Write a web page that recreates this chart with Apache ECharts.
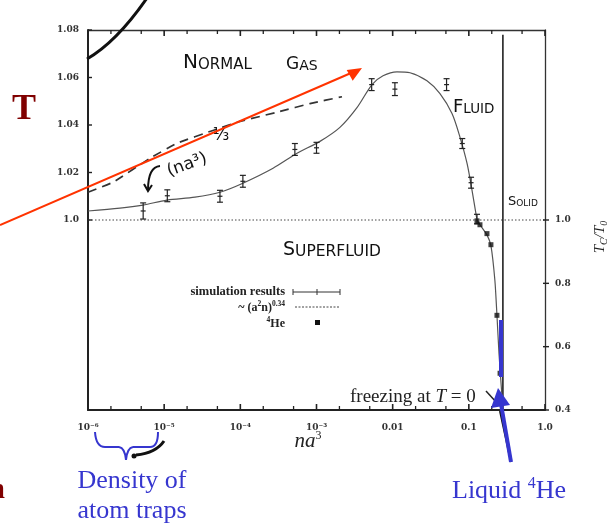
<!DOCTYPE html>
<html><head><meta charset="utf-8">
<script src="https://cdn.jsdelivr.net/npm/echarts@6/dist/echarts.min.js"></script>
<style>html,body{margin:0;padding:0;background:#fff}#c{width:616px;height:529px}</style>
</head><body><div id="c"></div>
<script>
// ---- axis ticks / labels ----
const xTickValues = [1e-6, 1e-5, 1e-4, 1e-3, 1e-2, 1e-1, 1];
const xTickLabels = ['10⁻⁶', '10⁻⁵', '10⁻⁴', '10⁻³', '0.01', '0.1', '1.0'];
const xMinorTickValues = [2e-6, 5e-6, 2e-5, 5e-5, 2e-4, 5e-4, 2e-3, 5e-3, 2e-2, 5e-2, 0.2, 0.5];
const leftTickValues = [1.0, 1.02, 1.04, 1.06, 1.08];
const leftTickLabels = ['1.0', '1.02', '1.04', '1.06', '1.08'];
const rightTickValues = [0.4, 0.6, 0.8, 1.0];
const rightTickLabels = ['0.4', '0.6', '0.8', '1.0'];

// ---- simulation results (left axis, Tc shift) with error bars ----
const simX = [5.3e-6, 1.1e-5, 5.4e-5, 1.08e-4, 5.2e-4, 1.0e-3, 5.3e-3, 1.07e-2, 5.1e-2, 8.2e-2, 0.107, 0.128];
const simY = [1.0038, 1.0102, 1.0100, 1.0163, 1.0297, 1.0304, 1.0570, 1.0551, 1.0570, 1.0322, 1.0157, 1.0004];
const simErr = [0.0034, 0.0025, 0.0025, 0.0025, 0.0025, 0.0023, 0.0025, 0.0027, 0.0025, 0.0021, 0.0023, 0.0020];

// ---- smooth curve through results, gas side (left axis) ----
const fitX = [1e-6, 2.63e-6, 5.27e-6, 1.09e-5, 2.54e-5, 5.41e-5, 1.08e-4, 2.69e-4, 5.55e-4, 1.11e-3, 2.03e-3, 3.40e-3, 5.36e-3, 7.47e-3, 0.0114, 0.0169, 0.0282, 0.0418, 0.0601, 0.0766, 0.0946, 0.110, 0.128];
const fitY = [1.0038, 1.0050, 1.0063, 1.0084, 1.0096, 1.0117, 1.0155, 1.0218, 1.0281, 1.0331, 1.0390, 1.0473, 1.0570, 1.0607, 1.0624, 1.0620, 1.0586, 1.0532, 1.0448, 1.0348, 1.0239, 1.0126, 1.0000];
// ---- continuation into the liquid (right axis) ----
const liqX = [0.128, 0.144, 0.173, 0.195, 0.220, 0.234, 0.249, 0.272, 0.281];
const liqY = [1.0, 0.981, 0.953, 0.919, 0.808, 0.699, 0.578, 0.445, 0.411];

// ---- ~ (a^2 n)^0.34 dashed ----
const powX = [1e-6, 2.13e-6, 6.52e-6, 1.47e-5, 4.37e-5, 9.9e-5, 3.32e-4, 8.2e-4, 2.16e-3];
const powY = [1.0117, 1.0159, 1.0260, 1.0323, 1.0377, 1.0415, 1.0457, 1.0490, 1.0519];

// ---- 4He data (right axis) ----
const heX = [0.128, 0.140, 0.173, 0.195, 0.234, 0.257];
const heY = [0.994, 0.985, 0.957, 0.922, 0.699, 0.516];

// ---- reference lines ----
const unityX = [1e-6, 1];
const unityY = [1.0, 1.0];
const freezeX = [0.28, 0.28];
const freezeY = [0.92, 1.078];

const SERIF = '"Liberation Serif","DejaVu Serif",serif';
const TICKFONT = '"DejaVu Serif",serif';
const HAND = '"DejaVu Sans",sans-serif';
const BLUE = '#3636cf';

function lookup(vals, labs, v, isLog) {
  for (let i = 0; i < vals.length; i++) {
    const d = isLog ? Math.abs(Math.log10(vals[i]) - Math.log10(v)) : Math.abs(vals[i] - v);
    if (d < 1e-6) return labs[i];
  }
  return '';
}

const chart = echarts.init(document.getElementById('c'), null, {renderer: 'canvas'});

const zip = (a, b) => a.map((x, i) => [x, b[i]]);

function handText(x, y, big, small, bs, ss) {
  return {
    type: 'text', x: x, y: y, z: 50,
    style: {
      text: '{b|' + big + '}{s|' + small + '}',
      verticalAlign: 'bottom',
      rich: {
        b: {fontFamily: HAND, fontSize: bs, fill: '#111', verticalAlign: 'bottom', lineHeight: bs},
        s: {fontFamily: HAND, fontSize: ss, fill: '#111', verticalAlign: 'bottom', lineHeight: bs}
      }
    }
  };
}
function quad(x1, y1, cx, cy, x2, y2, color, w, z) {
  return {type: 'bezierCurve', z: z, shape: {x1: x1, y1: y1, cpx1: cx, cpy1: cy, x2: x2, y2: y2},
    style: {stroke: color, lineWidth: w, fill: null}};
}
function seg(x1, y1, x2, y2, color, w, z) {
  return {type: 'line', z: z, shape: {x1: x1, y1: y1, x2: x2, y2: y2}, style: {stroke: color, lineWidth: w}};
}

const option = {
  animation: false,
  backgroundColor: '#fff',
  grid: {left: 88, top: 30, width: 457, height: 380, containLabel: false},
  xAxis: [
    {
      type: 'log', logBase: 10, min: 1e-6, max: 1, position: 'bottom', splitNumber: 6,
      axisLine: {show: true, lineStyle: {color: '#222', width: 2}},
      axisTick: {show: false},
      splitLine: {show: false},
      axisLabel: {
        margin: 13, fontFamily: TICKFONT, fontSize: 9, fontWeight: 'bold', color: '#333',
        formatter: v => lookup(xTickValues, xTickLabels, v, true)
      }
    },
    {
      type: 'log', logBase: 10, min: 1e-6, max: 1, position: 'top', splitNumber: 6,
      axisLine: {show: true, lineStyle: {color: '#333', width: 1.3}},
      axisTick: {show: false},
      splitLine: {show: false}, axisLabel: {show: false}
    }
  ],
  yAxis: [
    {
      type: 'value', min: 0.92, max: 1.08, interval: 0.02, position: 'left',
      axisLine: {show: true, lineStyle: {color: '#222', width: 2}},
      axisTick: {show: false},
      splitLine: {show: false},
      axisLabel: {
        margin: 9, fontFamily: TICKFONT, fontSize: 9, fontWeight: 'bold', color: '#333',
        formatter: v => lookup(leftTickValues, leftTickLabels, v, false)
      }
    },
    {
      type: 'value', min: 0.4, max: 1.6, interval: 0.2, position: 'right',
      axisLine: {show: true, lineStyle: {color: '#333', width: 1.3}},
      axisTick: {show: false},
      splitLine: {show: false},
      axisLabel: {
        margin: 10, fontFamily: TICKFONT, fontSize: 9, fontWeight: 'bold', color: '#333',
        formatter: v => lookup(rightTickValues, rightTickLabels, v, false)
      }
    }
  ],
  series: [
    {
      type: 'line', data: zip(unityX, unityY), symbol: 'none', silent: true,
      lineStyle: {color: '#444', width: 1, type: [1.5, 2]}, z: 2
    },
    {
      type: 'line', data: zip(freezeX, freezeY), symbol: 'none', silent: true,
      lineStyle: {color: '#222', width: 1.6}, z: 3
    },
    {
      type: 'line', data: zip(fitX, fitY), symbol: 'none', smooth: 0.3,
      lineStyle: {color: '#555', width: 1.2}, z: 3
    },
    {
      type: 'line', yAxisIndex: 1, data: zip(liqX, liqY), symbol: 'none', smooth: 0.2,
      lineStyle: {color: '#555', width: 1.2}, z: 3
    },
    {
      type: 'line', data: zip(powX, powY), symbol: 'none', smooth: 0.12,
      lineStyle: {color: '#333', width: 1.7, type: [9, 6]}, z: 3
    },
    {
      type: 'custom', xAxisIndex: 0, yAxisIndex: 0, z: 5,
      data: simX.map((x, i) => [x, simY[i], simErr[i]]),
      encode: {x: 0, y: 1},
      renderItem: function (params, api) {
        const x = api.value(0), y = api.value(1), e = api.value(2);
        const t = api.coord([x, y + e]), b = api.coord([x, y - e]), m = api.coord([x, y]);
        const w = 3, st = {stroke: '#222', lineWidth: 1.2};
        return {
          type: 'group', children: [
            {type: 'line', shape: {x1: t[0], y1: t[1], x2: b[0], y2: b[1]}, style: st},
            {type: 'line', shape: {x1: t[0] - w, y1: t[1], x2: t[0] + w, y2: t[1]}, style: st},
            {type: 'line', shape: {x1: b[0] - w, y1: b[1], x2: b[0] + w, y2: b[1]}, style: st},
            {type: 'line', shape: {x1: m[0] - 2.5, y1: m[1], x2: m[0] + 2.5, y2: m[1]}, style: st}
          ]
        };
      }
    },
    {
      type: 'scatter', yAxisIndex: 1, data: zip(heX, heY), symbol: 'rect', symbolSize: 5,
      itemStyle: {color: '#111'}, z: 6
    }
  ],
  graphic: [
    // handwritten region labels
    handText(183, 73, 'N', 'ORMAL', 20, 15),
    handText(286, 73, 'G', 'AS', 17, 14),
    handText(453, 116, 'F', 'LUID', 18, 13.5),
    handText(508, 208, 'S', 'OLID', 13, 9),
    handText(283, 260, 'S', 'UPERFLUID', 19, 15.5),
    // (na^3)^(1/3) annotation
    {type: 'text', x: 187, y: 165, rotation: 0.35, z: 50,
      style: {text: '(na³)', fontFamily: HAND, fontSize: 17, fill: '#111', align: 'center', verticalAlign: 'middle'}},
    {type: 'text', x: 221, y: 136, z: 50,
      style: {text: '⅓', fontFamily: HAND, fontSize: 17, fill: '#111', align: 'center', verticalAlign: 'middle'}},
    quad(160, 166, 148, 167, 148, 190, '#111', 2, 50),
    {type: 'polyline', z: 50, shape: {points: [[144, 184], [148, 191], [152, 185]]},
      style: {stroke: '#111', lineWidth: 2, fill: null}},
    // legend
    {type: 'text', x: 285, y: 292, z: 50, style: {text: 'simulation results', fontFamily: SERIF, fontSize: 12.5, fontWeight: 'bold', fill: '#222', align: 'right', verticalAlign: 'middle'}},
    seg(293, 292, 340, 292, '#333', 1, 50),
    seg(293, 289, 293, 295, '#333', 1, 50),
    seg(317, 289, 317, 295, '#333', 1, 50),
    seg(340, 289, 340, 295, '#333', 1, 50),
    {type: 'text', x: 285, y: 307, z: 50, style: {
      text: '{n|~ (a}{s|2}{n|n)}{s|0.34}', align: 'right', verticalAlign: 'middle',
      rich: {n: {fontFamily: SERIF, fontSize: 12, fontWeight: 'bold', fill: '#222', verticalAlign: 'bottom', lineHeight: 14},
             s: {fontFamily: SERIF, fontSize: 7.5, fontWeight: 'bold', fill: '#222', verticalAlign: 'top', lineHeight: 8}}}},
    {type: 'line', z: 50, shape: {x1: 295, y1: 307, x2: 340, y2: 307}, style: {stroke: '#444', lineWidth: 1, lineDash: [2, 1.5]}},
    {type: 'text', x: 285, y: 323, z: 50, style: {
      text: '{s|4}{n|He}', align: 'right', verticalAlign: 'middle',
      rich: {n: {fontFamily: SERIF, fontSize: 12, fontWeight: 'bold', fill: '#222', verticalAlign: 'bottom', lineHeight: 14},
             s: {fontFamily: SERIF, fontSize: 7.5, fontWeight: 'bold', fill: '#222', verticalAlign: 'top', lineHeight: 8}}}},
    {type: 'rect', z: 50, shape: {x: 315, y: 320, width: 5, height: 5}, style: {fill: '#111'}},
    // freezing at T = 0
    {type: 'text', x: 350, y: 397, z: 50, style: {
      text: '{n|freezing at }{i|T}{n| = 0}', verticalAlign: 'middle',
      rich: {n: {fontFamily: SERIF, fontSize: 19, fill: '#222'}, i: {fontFamily: SERIF, fontSize: 19, fontStyle: 'italic', fill: '#222'}}}},
    seg(486, 391, 497, 403, '#222', 1.5, 50),
    // axis titles
    {type: 'text', x: 308, y: 441, z: 50, style: {
      text: '{n|na}{s|3}', align: 'center', verticalAlign: 'middle',
      rich: {n: {fontFamily: SERIF, fontSize: 21, fontStyle: 'italic', fill: '#222', verticalAlign: 'bottom', lineHeight: 22},
             s: {fontFamily: SERIF, fontSize: 12, fill: '#222', verticalAlign: 'top', lineHeight: 12}}}},
    {type: 'text', x: 601, y: 237, rotation: Math.PI / 2, z: 50, style: {
      text: '{n|T}{s|C}{n|/T}{s|0}', align: 'center', verticalAlign: 'middle',
      rich: {n: {fontFamily: SERIF, fontSize: 15, fontStyle: 'italic', fill: '#222', verticalAlign: 'top', lineHeight: 16},
             s: {fontFamily: SERIF, fontSize: 10, fontStyle: 'italic', fill: '#222', verticalAlign: 'bottom', lineHeight: 10}}}},
    // overlay annotations
    quad(87, 59, 117, 41.5, 147, -2, '#111', 3, 60),
    seg(0, 225, 351, 73, '#ff3300', 2, 60),
    {type: 'polygon', z: 60, shape: {points: [[362, 68], [346.7, 70], [352.7, 80.7]]}, style: {fill: '#ff3300'}},
    {type: 'text', x: 12, y: 110, z: 60, style: {text: 'T', fontFamily: SERIF, fontSize: 36, fontWeight: 'bold', fill: '#800000', verticalAlign: 'middle'}},
    {type: 'text', x: 5, y: 490, z: 60, style: {text: 'n', fontFamily: SERIF, fontSize: 30, fontWeight: 'bold', fill: '#800000', align: 'right', verticalAlign: 'middle'}},
    // black scribble near brace
    quad(136, 455, 156, 453, 164, 441, '#111', 3, 60),
    {type: 'circle', z: 60, shape: {cx: 134, cy: 456, r: 2.5}, style: {fill: '#111'}},
    // blue brace and labels
    quad(95, 432, 96, 447, 105, 447, BLUE, 2, 61),
    seg(105, 447, 119, 447, BLUE, 2, 61),
    quad(119, 447, 125, 448, 126, 460, BLUE, 2, 61),
    quad(126, 460, 127, 448, 133, 447, BLUE, 2, 61),
    seg(133, 447, 150, 447, BLUE, 2, 61),
    quad(150, 447, 158, 447, 158, 432, BLUE, 2, 61),
    {type: 'text', x: 132, y: 481, z: 61, style: {text: 'Density of', fontFamily: SERIF, fontSize: 26, fill: BLUE, align: 'center', verticalAlign: 'middle'}},
    {type: 'text', x: 132, y: 511, z: 61, style: {text: 'atom traps', fontFamily: SERIF, fontSize: 26, fill: BLUE, align: 'center', verticalAlign: 'middle'}},
    {type: 'text', x: 452, y: 490, z: 61, style: {
      text: '{n|Liquid }{s|4}{n|He}', verticalAlign: 'middle',
      rich: {n: {fontFamily: SERIF, fontSize: 26, fill: BLUE, verticalAlign: 'bottom', lineHeight: 28},
             s: {fontFamily: SERIF, fontSize: 16, fill: BLUE, verticalAlign: 'top', lineHeight: 16}}}},
    // liquid helium arrow
    seg(500, 411, 511, 462, '#111', 2, 59),
    seg(511, 462, 501, 404, BLUE, 4, 61),
    {type: 'polygon', z: 61, shape: {points: [[498, 388], [491, 408], [510, 405]]}, style: {fill: BLUE}},
    {type: 'rect', z: 61, shape: {x: 499, y: 320, width: 4, height: 57}, style: {fill: BLUE}}
  ]
};
chart.setOption(option);

// ---- tick marks, positioned through the axes' own scales ----
const px = v => chart.convertToPixel({xAxisIndex: 0}, v);
const pyL = v => chart.convertToPixel({yAxisIndex: 0}, v);
const pyR = v => chart.convertToPixel({yAxisIndex: 1}, v);
const gLeft = px(1e-6), gRight = px(1), gTop = pyL(1.08), gBottom = pyL(0.92);
const ticks = [];
function xt(v, len, lw) {
  const x = px(v);
  ticks.push(seg(x, gBottom, x, gBottom - len, '#222', lw, 9));
  ticks.push(seg(x, gTop, x, gTop + len, '#222', lw, 9));
}
xTickValues.forEach(v => xt(v, 6, 1.6));
xMinorTickValues.forEach(v => xt(v, 4, 1.3));
leftTickValues.forEach(v => { const y = pyL(v); ticks.push(seg(gLeft, y, gLeft + 4, y, '#222', 1.4, 9)); });
rightTickValues.forEach(v => { const y = pyR(v); ticks.push(seg(gRight - 2, y, gRight + 4, y, '#222', 1.4, 9)); });
option.graphic = option.graphic.concat(ticks);
chart.setOption(option, true);
</script>
</body></html>
